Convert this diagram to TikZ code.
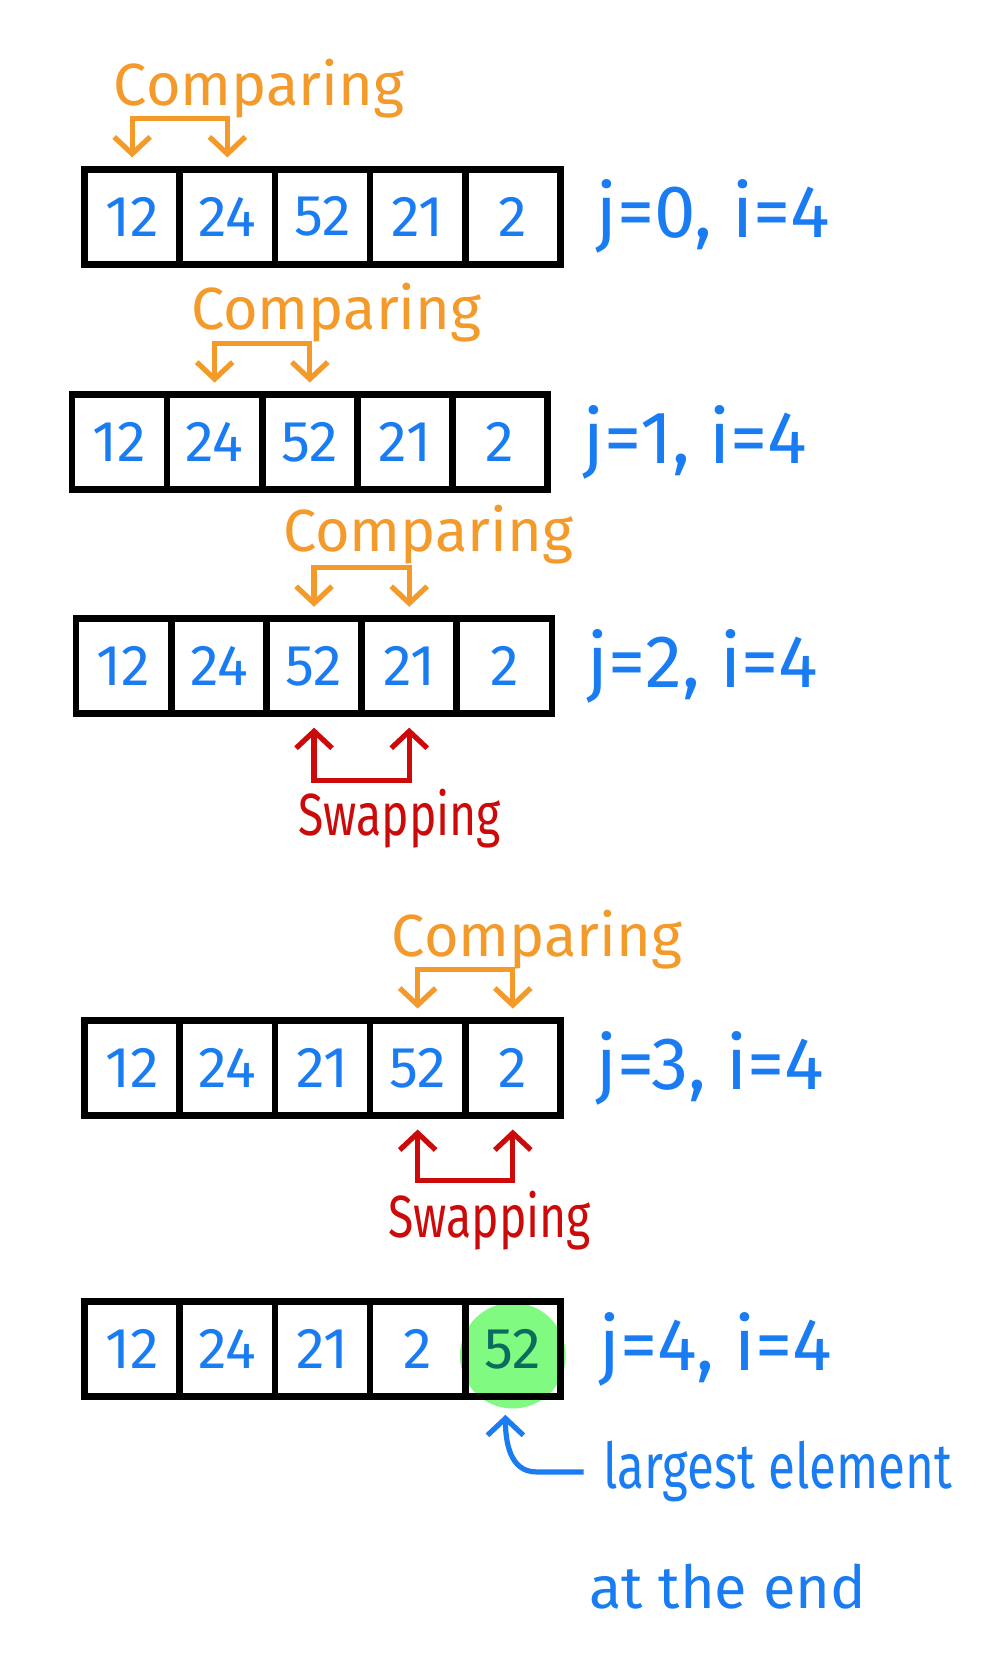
\documentclass[tikz,border=0pt]{standalone}
\usepackage{fontspec}
\setmainfont{Fira Sans}
\newfontfamily\narrowpen[FakeStretch=0.78]{Fira Sans}
\usetikzlibrary{positioning,arrows.meta,backgrounds}

\definecolor{penblue}{HTML}{1A7CF2}
\definecolor{penorange}{HTML}{F39A2B}
\definecolor{penred}{HTML}{CC0A0A}
\definecolor{pengreen}{HTML}{80FA80}
\definecolor{penteal}{HTML}{0B6B5C}

\begin{document}
\begin{tikzpicture}[
    x=0.1mm, y=-0.1mm,
    cell/.style={rectangle, draw=black, line width=1.8pt, minimum width=9mm,
        minimum height=9mm, inner sep=0pt, text=penblue,
        font=\fontsize{15.5}{18}\selectfont},
    idx/.style={text=penblue, inner sep=0pt, font=\fontsize{20}{24}\selectfont},
    note/.style={text=penblue, inner sep=1.8mm, font=\narrowpen\fontsize{17}{20}\selectfont},
    cmplabel/.style={text=penorange, anchor=base, font=\fontsize{16}{20}\selectfont},
    swplabel/.style={text=penred, anchor=base, font=\narrowpen\fontsize{16}{20}\selectfont},
    cmp/.style={draw=penorange, line width=1.4pt, <->,
        >={Straight Barb[length=1.6mm,width=3.4mm]},
        shorten <=0.8mm, shorten >=0.8mm},
    swp/.style={draw=penred, line width=1.4pt, <->,
        >={Straight Barb[length=1.6mm,width=3.4mm]},
        shorten <=1mm, shorten >=1mm},
    pointer/.style={draw=penblue, line width=1.4pt, ->,
        >={Straight Barb[length=1.6mm,width=3.4mm]}}
]
    \useasboundingbox (0,0) rectangle (946,1568);

    % pass j=0
    \node[cell] (c11) at (125,205) {12};
    \node[cell] (c12) at (215,205) {24};
    \node[cell] (c13) at (305,205) {52};
    \node[cell] (c14) at (395,205) {21};
    \node[cell] (c15) at (485,205) {2};
    \node[idx, right=3mm of c15] (idx1) {j=0, i=4};
    \node[cmplabel] (cmp1) at (245,100) {Comparing};
    \draw[cmp] (c11.north) -- ++(0,-45) -| (c12.north);

    % pass j=1
    \node[cell] (c21) at (113,418) {12};
    \node[cell] (c22) at (203,418) {24};
    \node[cell] (c23) at (293,418) {52};
    \node[cell] (c24) at (383,418) {21};
    \node[cell] (c25) at (473,418) {2};
    \node[idx, right=3mm of c25] (idx2) {j=1, i=4};
    \node[cmplabel] (cmp2) at (318,312) {Comparing};
    \draw[cmp] (c22.north) -- ++(0,-45) -| (c23.north);

    % pass j=2
    \node[cell] (c31) at (117,630) {12};
    \node[cell] (c32) at (207,630) {24};
    \node[cell] (c33) at (297,630) {52};
    \node[cell] (c34) at (387,630) {21};
    \node[cell] (c35) at (477,630) {2};
    \node[idx, right=3mm of c35] (idx3) {j=2, i=4};
    \node[cmplabel] (cmp3) at (405,522) {Comparing};
    \draw[cmp] (c33.north) -- ++(0,-45) -| (c34.north);
    \draw[swp] (c33.south) -- ++(0,60) -| (c34.south);
    \node[swplabel] (swp3) at (378,790) {Swapping};

    % pass j=3
    \node[cell] (c41) at (125,1010) {12};
    \node[cell] (c42) at (215,1010) {24};
    \node[cell] (c43) at (305,1010) {21};
    \node[cell] (c44) at (395,1010) {52};
    \node[cell] (c45) at (485,1010) {2};
    \node[idx, right=3mm of c45] (idx4) {j=3, i=4};
    \node[cmplabel] (cmp4) at (508,905) {Comparing};
    \draw[cmp] (c44.north) -- ++(0,-45) -| (c45.north);
    \draw[swp] (c44.south) -- ++(0,58) -| (c45.south);
    \node[swplabel] (swp4) at (463,1170) {Swapping};

    % j=4, largest at the end
    \node[cell] (c51) at (125,1276) {12};
    \node[cell] (c52) at (215,1276) {24};
    \node[cell] (c53) at (305,1276) {21};
    \node[cell] (c54) at (395,1276) {2};
    \node[cell, text=penteal] (c55) at (485,1276) {52};
    \node[idx, right=3.3mm of c55] (idx5) {j=4, i=4};
    \node[note, anchor=west] (largest) at (552,1392) {largest element};
    \node[note, font=\fontsize{16}{20}\selectfont] (atend) at (688,1500) {at the end};
    \coordinate (top52) at (478,1338);
    \draw[pointer] (largest.west) -- ++(-45,0)
        .. controls +(-25,0) and +(0,25) .. (top52);

    \begin{scope}[on background layer]
        \fill[white] (0,0) rectangle (946,1568);
        \fill[pengreen] ([yshift=-0.6mm]c55) circle [radius=5mm];
    \end{scope}
\end{tikzpicture}
\end{document}
